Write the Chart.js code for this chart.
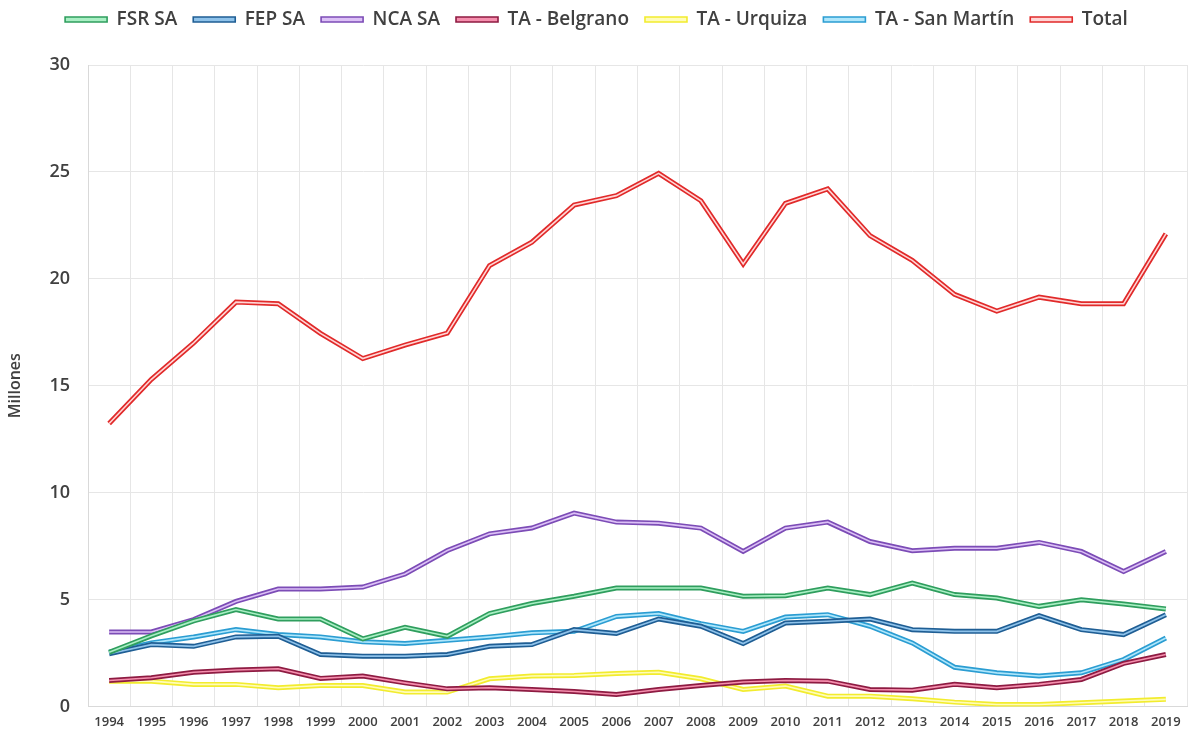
<!DOCTYPE html>
<html>
<head>
<meta charset="utf-8">
<script src="https://cdn.jsdelivr.net/npm/chart.js@4/dist/chart.umd.min.js"></script>
<style>
  body { margin: 0; background: #fff; }
  #wrap { width: 1195px; height: 742px; }
</style>
</head>
<body>
<div id="wrap"><canvas id="chart" width="1195" height="742"></canvas></div>
<script>
const years = ['1994', '1995', '1996', '1997', '1998', '1999', '2000', '2001', '2002', '2003', '2004', '2005', '2006',
  '2007', '2008', '2009', '2010', '2011', '2012', '2013', '2014', '2015', '2016', '2017', '2018', '2019'];

const fsr = [2.53, 3.3, 4.0, 4.53, 4.09, 4.09, 3.16, 3.70, 3.28, 4.34, 4.81, 5.15, 5.54,
  5.54, 5.54, 5.15, 5.18, 5.54, 5.23, 5.77, 5.23, 5.07, 4.68, 4.99, 4.79, 4.56];
const fep = [2.46, 2.89, 2.81, 3.25, 3.28, 2.43, 2.35, 2.35, 2.43, 2.81, 2.89, 3.59, 3.41,
  4.09, 3.75, 2.94, 3.90, 3.98, 4.09, 3.59, 3.51, 3.51, 4.25, 3.59, 3.36, 4.29];
const nca = [3.48, 3.48, 4.06, 4.91, 5.49, 5.49, 5.58, 6.19, 7.29, 8.07, 8.34, 9.04, 8.62,
  8.57, 8.34, 7.25, 8.34, 8.62, 7.71, 7.28, 7.40, 7.40, 7.67, 7.25, 6.31, 7.25];
const belgrano = [1.21, 1.34, 1.60, 1.70, 1.76, 1.31, 1.42, 1.10, 0.82, 0.87, 0.79, 0.70, 0.56,
  0.79, 0.98, 1.14, 1.21, 1.18, 0.79, 0.76, 1.03, 0.87, 1.03, 1.26, 2.01, 2.43];
const urquiza = [1.18, 1.18, 1.03, 1.03, 0.87, 0.98, 0.98, 0.67, 0.67, 1.29, 1.42, 1.45, 1.54,
  1.60, 1.29, 0.79, 0.95, 0.48, 0.48, 0.36, 0.20, 0.09, 0.09, 0.17, 0.25, 0.33];
const sanMartin = [2.53, 2.97, 3.25, 3.59, 3.36, 3.25, 3.02, 2.94, 3.09, 3.25, 3.44, 3.51, 4.21,
  4.34, 3.87, 3.51, 4.18, 4.29, 3.75, 2.97, 1.83, 1.57, 1.42, 1.57, 2.19, 3.20];
const total = [13.23, 15.3, 17.0, 18.91, 18.83, 17.45, 16.27, 16.9, 17.46, 20.62, 21.71, 23.45, 23.89,
  24.93, 23.65, 20.7, 23.53, 24.2, 22.02, 20.86, 19.27, 18.49, 19.14, 18.83, 18.83, 22.1];

const yTicks = [0, 5, 10, 15, 20, 25, 30];

function serie(label, data, outer, inner) {
  return {
    label: label,
    data: data,
    borderColor: outer,
    backgroundColor: inner,
    innerColor: inner,
    borderWidth: 5,
    pointRadius: 0,
    tension: 0,
    fill: false
  };
}

// draws the light middle stroke so each line looks like a double line
const doubleLine = {
  id: 'doubleLine',
  afterDatasetDraw(chart, args) {
    const meta = args.meta;
    const ds = chart.data.datasets[args.index];
    const ctx = chart.ctx;
    const area = chart.chartArea;
    ctx.save();
    ctx.beginPath();
    ctx.rect(area.left, area.top - 5, area.right - area.left, area.bottom - area.top + 10);
    ctx.clip();
    ctx.beginPath();
    meta.data.forEach((p, i) => {
      if (i === 0) ctx.moveTo(p.x, p.y);
      else ctx.lineTo(p.x, p.y);
    });
    ctx.strokeStyle = ds.innerColor;
    ctx.lineWidth = 1.6;
    ctx.stroke();
    ctx.restore();
  }
};

// extra room under the legend
const legendGap = {
  id: 'legendGap',
  beforeInit(chart) {
    const fit = chart.legend.fit;
    chart.legend.fit = function () {
      fit.bind(chart.legend)();
      this.height += 26;
    };
  }
};

const ctx = document.getElementById('chart').getContext('2d');
new Chart(ctx, {
  type: 'line',
  data: {
    labels: years,
    datasets: [
      serie('FSR SA', fsr, '#2f9e5e', '#a9efc4'),
      serie('FEP SA', fep, '#1f5e94', '#8ec2ea'),
      serie('NCA SA', nca, '#7c4cb6', '#dcc0f6'),
      serie('TA - Belgrano', belgrano, '#8e1b42', '#f58fae'),
      serie('TA - Urquiza', urquiza, '#f2ec2e', '#fffcb8'),
      serie('TA - San Martín', sanMartin, '#2b9dd2', '#aee6fb'),
      serie('Total', total, '#e12a2a', '#ffd6d6')
    ]
  },
  options: {
    responsive: false,
    animation: false,
    layout: { padding: { left: 6, right: 8, top: -6, bottom: 4 } },
    plugins: {
      legend: {
        position: 'top',
        labels: {
          boxWidth: 42,
          boxHeight: 5,
          padding: 16,
          color: '#404040',
          font: { family: 'Open Sans', size: 19, weight: '600' },
          generateLabels(chart) {
            return chart.data.datasets.map((ds, i) => ({
              text: ds.label,
              fillStyle: ds.innerColor,
              strokeStyle: ds.borderColor,
              lineWidth: 1.6,
              fontColor: '#404040',
              datasetIndex: i
            }));
          }
        }
      },
      tooltip: { enabled: false }
    },
    scales: {
      x: {
        offset: true,
        grid: { offset: true, color: '#e6e6e6', drawTicks: false },
        border: { color: '#d9d9d9' },
        ticks: {
          autoSkip: false,
          maxRotation: 0,
          padding: 8,
          color: '#404040',
          font: { family: 'Open Sans', size: 13, weight: '600' }
        }
      },
      y: {
        min: 0,
        max: 30,
        afterBuildTicks(scale) { scale.ticks = yTicks.map(v => ({ value: v })); },
        afterFit(scale) { scale.width = 82; },
        grid: { color: '#e6e6e6', drawTicks: false },
        border: { color: '#d9d9d9' },
        title: {
          display: true,
          text: 'Millones',
          color: '#404040',
          padding: 0,
          font: { family: 'Open Sans', size: 16, weight: '600' }
        },
        ticks: {
          padding: 18,
          color: '#404040',
          font: { family: 'Open Sans', size: 18, weight: '600' }
        }
      }
    }
  },
  plugins: [doubleLine, legendGap]
});
</script>
</body>
</html>
